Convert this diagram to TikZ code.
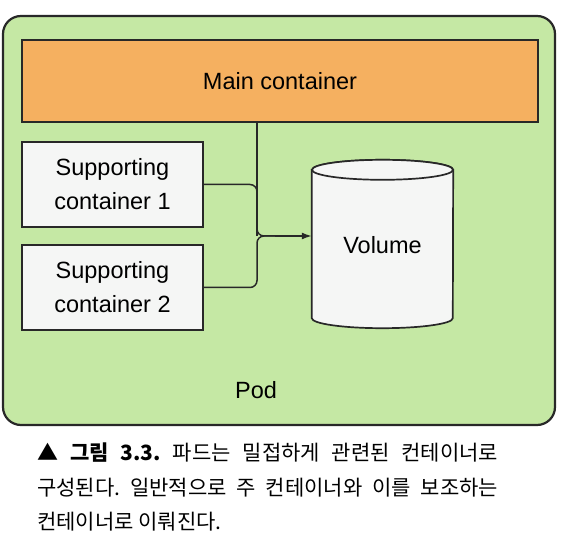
\documentclass[tikz,border=0pt]{standalone}
\usepackage{fontspec}
\setmainfont{Liberation Sans}
\newfontfamily\kr{Noto Sans CJK KR}
\usetikzlibrary{arrows.meta}
\frenchspacing
\definecolor{podgreen}{RGB}{197,232,164}
\definecolor{mainorange}{RGB}{245,176,96}
\definecolor{boxwhite}{RGB}{245,246,245}
\definecolor{edge}{RGB}{40,40,40}
\tikzset{
  box/.style={draw=edge, line width=1.7pt, inner sep=0pt, align=center, font=\fontsize{23.5}{34}\selectfont},
  conn/.style={draw=edge, line width=1.5pt, rounded corners=7pt},
  captxt/.style={anchor=base west, inner sep=0pt, font=\kr\fontsize{21}{25}\selectfont}
}
\begin{document}
\begin{tikzpicture}[x=1pt, y=-1pt]
\useasboundingbox[fill=white] (0,0) rectangle (566,548);
% pod
\node[draw=edge, line width=2.2pt, fill=podgreen, rounded corners=18pt, minimum width=552pt, minimum height=409pt, inner sep=0pt] (pod) at (279,220.5) {};
\node[font=\fontsize{23.5}{28}\selectfont] (podlabel) at (256,390) {Pod};
% main container
\node[box, fill=mainorange, minimum width=516pt, minimum height=82pt] (main) at (280,81) {Main container};
% supporting containers
\node[box, fill=boxwhite, minimum width=181pt, minimum height=85pt] (sc1) at (112.5,184.5) {Supporting\\container 1};
\node[box, fill=boxwhite, minimum width=181pt, minimum height=85pt] (sc2) at (112.5,287.5) {Supporting\\container 2};
% volume cylinder
\node[inner sep=0pt, minimum width=141pt, minimum height=148pt] (vol) at (382.5,244) {};
\draw[draw=edge, line width=1.7pt, fill=boxwhite]
  (vol.north west) -- (vol.south west)
  arc[start angle=180, end angle=360, x radius=70.5pt, y radius=10pt]
  -- (vol.north east)
  arc[start angle=0, end angle=180, x radius=70.5pt, y radius=10pt] -- cycle;
\draw[draw=edge, line width=1.7pt, fill=boxwhite] (vol.north) ellipse[x radius=70.5pt, y radius=10pt];
\node[font=\fontsize{23.5}{28}\selectfont] (vollabel) at (382.5,245) {Volume};
% connectors
\coordinate (j) at (257,236);
\draw[conn] (main.south -| j) -- (j);
\draw[conn] (sc1.east) -- (sc1.east -| j) -- (j) -- ([xshift=20pt]j);
\draw[conn] (sc2.east) -- (sc2.east -| j) -- (j) -- ([xshift=20pt]j);
\draw[draw=edge, line width=1.5pt, -{Latex[length=10pt, width=7pt]}] ([xshift=18pt]j) -- (j -| vol.west);
% caption
\node[captxt] (c1) at (37,461) {\makebox[461pt][s]{▲ {\bfseries 그림 3.3.} 파드는 밀접하게 관련된 컨테이너로}};
\node[captxt] (c2) at (37,496) {\makebox[461pt][s]{구성된다. 일반적으로 주 컨테이너와 이를 보조하는}};
\node[captxt] (c3) at (37,530) {컨테이너로 이뤄진다.};
\end{tikzpicture}
\end{document}
